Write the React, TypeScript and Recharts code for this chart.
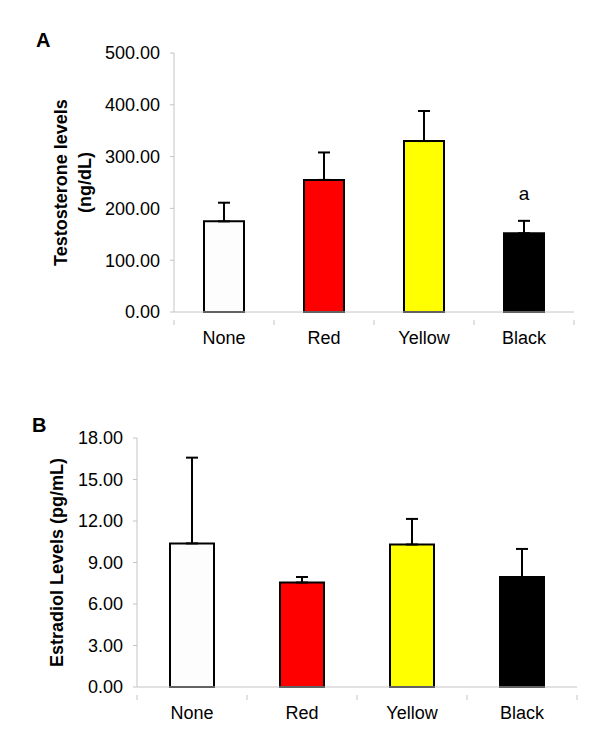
import React from 'react';
import { BarChart, Bar, XAxis, YAxis, ErrorBar, Cell, LabelList } from 'recharts';

const categories = ['None', 'Red', 'Yellow', 'Black'];
const barColors = ['#fdfdfd', '#ff0000', '#ffff00', '#000000'];

const testosterone = [175, 255, 330, 152];
const testosteroneErr = [36, 53, 58, 24];
const testosteroneNote = ['', '', '', 'a'];
const testosteroneTicks = [0, 100, 200, 300, 400, 500];

const estradiol = [10.38, 7.55, 10.3, 7.95];
const estradiolErr = [6.2, 0.4, 1.85, 2.03];
const estradiolTicks = [0, 3, 6, 9, 12, 15, 18];

const dataA = categories.map((name, i) => ({
  name,
  value: testosterone[i],
  err: [0, testosteroneErr[i]],
  note: testosteroneNote[i]
}));

const dataB = categories.map((name, i) => ({
  name,
  value: estradiol[i],
  err: [0, estradiolErr[i]]
}));

const AXIS = '#c4c4c4';
const FONT = 'Liberation Sans, Arial, sans-serif';

// x tick: label at the centre, little tick marks at the category borders
const makeCatTick = (band: number, count: number) => (props: any) => {
  const { x, y, payload, index } = props;
  const left = x - band / 2;
  return (
    <g>
      <line x1={left} y1={y} x2={left} y2={y + 5} stroke={AXIS} strokeWidth={1} />
      {index === count - 1 && (
        <line x1={x + band / 2} y1={y} x2={x + band / 2} y2={y + 5} stroke={AXIS} strokeWidth={1} />
      )}
      <text x={x} y={y + 24} textAnchor="middle" fontSize={18} fontFamily={FONT} fill="#000">
        {payload.value}
      </text>
    </g>
  );
};

const tickStyle = { fontSize: 18, fontFamily: FONT, fill: '#000' };

export default function App() {
  return (
    <div style={{ position: 'absolute', left: 0, top: 0, width: 600, height: 745, background: '#fff', fontFamily: FONT }}>
      <svg width={600} height={745} style={{ position: 'absolute', left: 0, top: 0 }}>
        <text x={36} y={47} fontSize={20} fontWeight="bold" fontFamily={FONT}>A</text>
        <text x={32} y={432} fontSize={20} fontWeight="bold" fontFamily={FONT}>B</text>
      </svg>

      <div style={{ position: 'absolute', left: 0, top: 0 }}>
        <BarChart
          width={600}
          height={370}
          data={dataA}
          margin={{ top: 53, right: 26, left: 0, bottom: 28 }}
          barCategoryGap="30%"
        >
          <XAxis
            dataKey="name"
            stroke={AXIS}
            tickLine={false}
            height={30}
            interval={0}
            tick={makeCatTick(100, categories.length)}
          />
          <YAxis
            width={174}
            domain={[0, 500]}
            ticks={testosteroneTicks}
            tickFormatter={(v: number) => v.toFixed(2)}
            stroke={AXIS}
            tickSize={4}
            tickMargin={10}
            tick={tickStyle}
            label={{
              content: (p: any) => {
                const cy = p.viewBox.y + p.viewBox.height / 2;
                return (
                  <g>
                    <text x={67} y={cy} transform={`rotate(-90, 67, ${cy})`} textAnchor="middle" fontSize={18} fontWeight="bold" fontFamily={FONT} fill="#000">
                      Testosterone levels
                    </text>
                    <text x={91} y={cy} transform={`rotate(-90, 91, ${cy})`} textAnchor="middle" fontSize={18} fontWeight="bold" fontFamily={FONT} fill="#000">
                      (ng/dL)
                    </text>
                  </g>
                );
              }
            }}
          />
          <Bar dataKey="value" stroke="#000" strokeWidth={2} isAnimationActive={false}>
            {dataA.map((d, i) => (
              <Cell key={d.name} fill={barColors[i]} />
            ))}
            <ErrorBar dataKey="err" width={6} stroke="#000" strokeWidth={2} direction="y" isAnimationActive={false} />
            <LabelList dataKey="note" position="top" offset={33} fontSize={19} fontFamily={FONT} fill="#000" />
          </Bar>
        </BarChart>
      </div>

      <div style={{ position: 'absolute', left: 0, top: 380 }}>
        <BarChart
          width={600}
          height={365}
          data={dataB}
          margin={{ top: 58, right: 23, left: 0, bottom: 28 }}
          barCategoryGap="30%"
        >
          <XAxis
            dataKey="name"
            stroke={AXIS}
            tickLine={false}
            height={30}
            interval={0}
            tick={makeCatTick(110, categories.length)}
          />
          <YAxis
            width={137}
            domain={[0, 18]}
            ticks={estradiolTicks}
            tickFormatter={(v: number) => v.toFixed(2)}
            stroke={AXIS}
            tickSize={4}
            tickMargin={10}
            tick={tickStyle}
            label={{
              content: (p: any) => {
                const cy = p.viewBox.y + p.viewBox.height / 2;
                return (
                  <text x={63} y={cy} transform={`rotate(-90, 63, ${cy})`} textAnchor="middle" fontSize={18} fontWeight="bold" fontFamily={FONT} fill="#000">
                    Estradiol Levels (pg/mL)
                  </text>
                );
              }
            }}
          />
          <Bar dataKey="value" stroke="#000" strokeWidth={2} isAnimationActive={false}>
            {dataB.map((d, i) => (
              <Cell key={d.name} fill={barColors[i]} />
            ))}
            <ErrorBar dataKey="err" width={6} stroke="#000" strokeWidth={2} direction="y" isAnimationActive={false} />
          </Bar>
        </BarChart>
      </div>
    </div>
  );
}
